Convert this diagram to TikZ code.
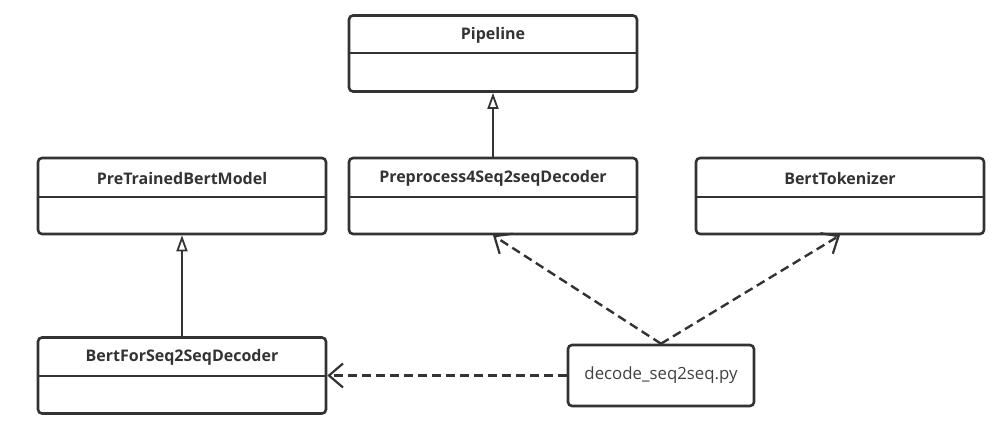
\documentclass[tikz,border=0pt]{standalone}
\usepackage{fontspec}
\setmainfont{Open Sans}
\usetikzlibrary{arrows.meta}
\tikzset{
  classbox/.style={draw=black!80, line width=2.6pt, rounded corners=4pt, minimum width=288pt, minimum height=76pt, inner sep=0pt},
  classname/.style={font=\fontsize{16}{19}\selectfont\bfseries, text=black!80},
  filebox/.style={draw=black!80, line width=2.6pt, rounded corners=4pt, minimum width=186pt, minimum height=61pt, inner sep=0pt, font=\fontsize{16.8}{20}\selectfont, text=black!75},
  inherit/.style={draw=black!80, line width=2.4pt, -{Triangle[open, length=16pt, width=11pt, line width=1.8pt]}},
  depend/.style={draw=black!80, line width=2.4pt, dash pattern=on 9pt off 5pt, -{Straight Barb[length=14pt, width=24pt, line width=2.2pt]}}
}
\begin{document}
\begin{tikzpicture}[x=1pt, y=-1pt]
\useasboundingbox (0,0) rectangle (996,447);

% class boxes
\node[classbox] (pipe) at (493,53.5) {};
\node[classbox] (ptbm) at (182,196) {};
\node[classbox] (prep) at (493,196) {};
\node[classbox] (btok) at (840,196) {};
\node[classbox] (bfsd) at (182,375.5) {};

% class names and dividers
\node[classname] (pipetitle) at (493,35) {Pipeline};
\draw[line width=2.4pt, black!80] (pipe.west |- 0,53) -- (pipe.east |- 0,53);
\node[classname] (ptbmtitle) at (182,178) {PreTrainedBertModel};
\draw[line width=2.4pt, black!80] (ptbm.west |- 0,197) -- (ptbm.east |- 0,197);
\node[classname] (preptitle) at (493,178) {Preprocess4Seq2seqDecoder};
\draw[line width=2.4pt, black!80] (prep.west |- 0,197) -- (prep.east |- 0,197);
\node[classname] (btoktitle) at (840,178) {BertTokenizer};
\draw[line width=2.4pt, black!80] (btok.west |- 0,197) -- (btok.east |- 0,197);
\node[classname] (bfsdtitle) at (182,357) {BertForSeq2SeqDecoder};
\draw[line width=2.4pt, black!80] (bfsd.west |- 0,376) -- (bfsd.east |- 0,376);

% script
\node[filebox] (decode) at (661,375.5) {decode\_seq2seq.py};

% inheritance
\draw[inherit] (prep.north) -- (pipe.south);
\draw[inherit] (bfsd.north) -- (ptbm.south);

% dependencies
\draw[depend] (decode.north) -- (prep.south);
\draw[depend] (decode.north) -- (btok.south);
\draw[depend] (decode.west) -- (bfsd.east);
\end{tikzpicture}
\end{document}
